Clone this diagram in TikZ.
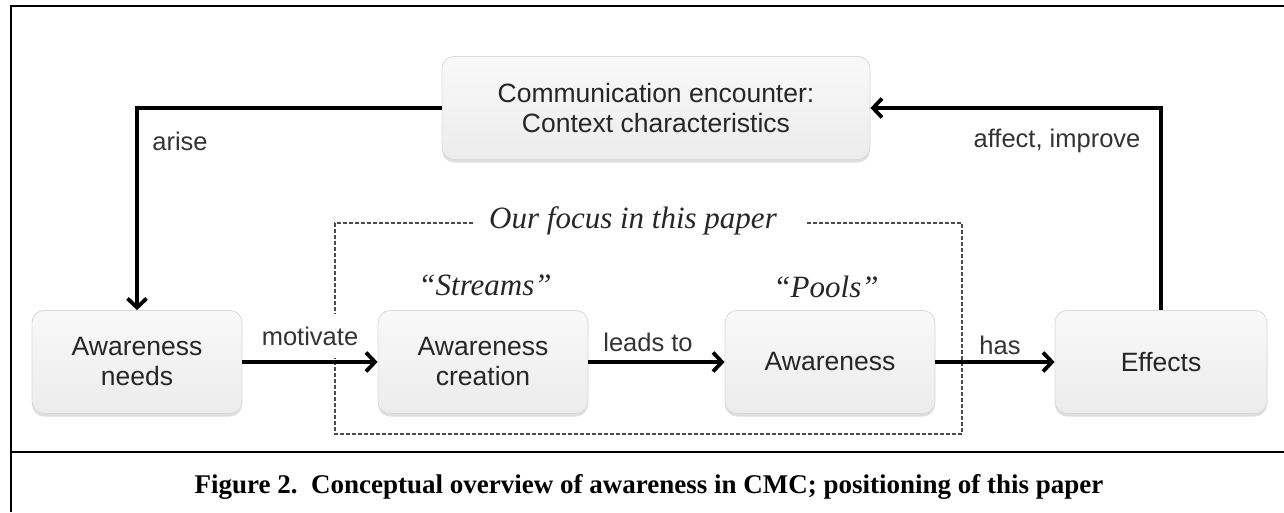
\documentclass[tikz,border=0pt]{standalone}
\usepackage{fontspec}
\setmainfont{Liberation Serif}
\newfontfamily\boxfont{Liberation Sans}
\usetikzlibrary{arrows.meta,shadows}
\definecolor{boxtext}{HTML}{262626}
\definecolor{labeltext}{HTML}{333333}
\begin{document}
\begin{tikzpicture}[x=1pt,y=-1pt,
  conc/.style={draw=gray!30, line width=0.8pt, rounded corners=12pt,
    top color=gray!5, bottom color=gray!15,
    drop shadow={shadow xshift=0pt, shadow yshift=-3pt, opacity=0.25},
    minimum height=103pt, align=center, text=boxtext,
    font=\boxfont\fontsize{26.5}{30}\selectfont, inner sep=0pt},
  arr/.style={line width=3.8pt, -{Straight Barb[length=9pt,width=19pt]}},
  lbl/.style={text=labeltext, font=\boxfont\fontsize{25.5}{28}\selectfont, inner sep=0pt},
  ital/.style={font=\itshape\fontsize{31}{34}\selectfont, text=black!85, inner sep=0pt},
  frame/.style={line width=2.5pt}
  ]
\useasboundingbox (0,0) rectangle (1284,512);
% frame
\draw[frame] (11,512) -- (11,6) -- (1284,6);
\draw[frame] (11,452) -- (1284,452);
% dashed focus box
\coordinate (fa) at (473,223);
\coordinate (fb) at (807,223);
\draw[gray!60!black, line width=1.8pt, dash pattern=on 4pt off 2pt]
  (fa) -- (335,223) -- (335,434) -- (962,434) -- (962,223) -- (fb);
\node[ital] (focus) at (633,221) {Our focus in this paper};
% nodes
\node[conc, minimum width=428pt] (top) at (656,108) {Communication encounter:\\Context characteristics};
\node[conc, minimum width=210pt] (needs) at (137,362) {Awareness\\needs};
\node[conc, minimum width=210pt] (creation) at (483,362) {Awareness\\creation};
\node[conc, minimum width=210pt] (aware) at (830,362) {Awareness};
\node[conc, minimum width=212pt] (effects) at (1161,362) {Effects};
\node[ital] (streams) at (485,285) {``Streams''};
\node[ital] (pools) at (826,287) {``Pools''};
% labels
\node[lbl] (l1) at (180,141) {arise};
\node[lbl] (l2) at (1057,141) {affect, improve};
\node[lbl, fill=white, minimum height=44pt, inner xsep=1pt] (l3) at (310,336) {motivate};
\node[lbl] (l4) at (648,342) {leads to};
\node[lbl] (l5) at (1000,345) {has};
% connectors
\draw[arr] (top.west) -| (needs.north);
\draw[arr] (effects.north) |- (top.east);
\draw[arr] (needs.east) -- (creation.west);
\draw[arr] (creation.east) -- (aware.west);
\draw[arr] (aware.east) -- (effects.west);
% caption
\node[font=\bfseries\fontsize{27}{32}\selectfont, inner sep=0pt] (cap) at (649,487)
  {Figure 2.\ \ Conceptual overview of awareness in CMC; positioning of this paper};
\end{tikzpicture}
\end{document}
